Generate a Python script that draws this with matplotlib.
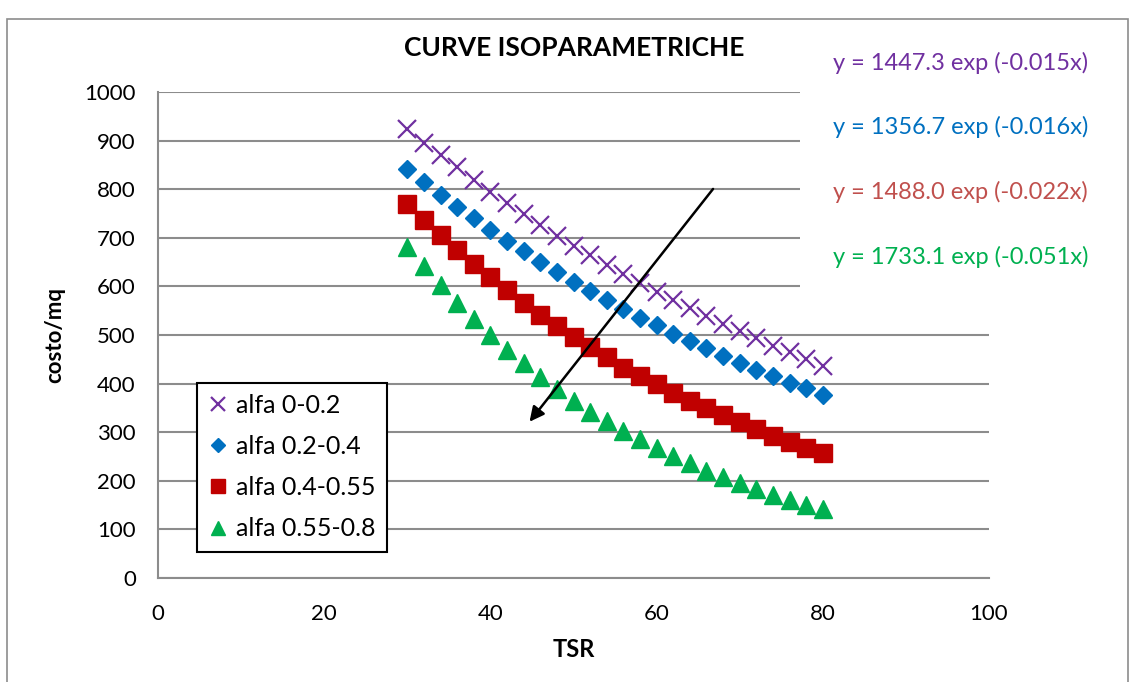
import matplotlib.pyplot as plt
from matplotlib.patches import Rectangle

plt.rcParams['font.family'] = ['Lato', 'DejaVu Sans']

tsr = [30, 32, 34, 36, 38, 40, 42, 44, 46, 48, 50, 52, 54,
       56, 58, 60, 62, 64, 66, 68, 70, 72, 74, 76, 78, 80]

alfa_0_02 = [923, 896, 870, 845, 819, 795, 771, 749, 726, 704, 684, 665, 645,
             626, 608, 589, 572, 555, 539, 523, 508, 493, 478, 464, 450, 436]
alfa_02_04 = [841, 814, 788, 763, 740, 717, 694, 672, 651, 630, 610, 590, 572,
              553, 536, 521, 503, 488, 473, 457, 442, 428, 416, 402, 390, 377]
alfa_04_055 = [769, 737, 706, 675, 646, 619, 593, 566, 541, 518, 496, 475, 454,
               433, 416, 399, 381, 364, 349, 335, 320, 306, 292, 279, 267, 257]
alfa_055_08 = [682, 642, 603, 566, 532, 500, 469, 442, 414, 388, 365, 342, 323,
               303, 285, 267, 251, 236, 221, 208, 195, 183, 171, 160, 150, 143]

labels = ['alfa 0-0.2', 'alfa 0.2-0.4', 'alfa 0.4-0.55', 'alfa 0.55-0.8']
equations = ['y = 1447.3 exp (-0.015x)', 'y = 1356.7 exp (-0.016x)',
             'y = 1488.0 exp (-0.022x)', 'y = 1733.1 exp (-0.051x)']

W, H = 1134, 682
fig = plt.figure(figsize=(W / 100, H / 100), dpi=100)
ax = fig.add_axes([158 / W, 1 - 578 / H, (989 - 158) / W, (578 - 92) / H])

# chart frame (Excel style, partly cropped)
fig.patches.append(Rectangle((7 / W, -0.05), (1128 - 7) / W, 1.05 - 19 / H,
                             transform=fig.transFigure, fill=False,
                             edgecolor='#8c8c8c', lw=1.2))

ax.plot(tsr, alfa_0_02, 'x', color='#7030A0', ms=13, mew=1.6, label=labels[0])
ax.plot(tsr, alfa_02_04, 'D', color='#0070C0', ms=9, label=labels[1])
ax.plot(tsr, alfa_04_055, 's', color='#C00000', ms=13, label=labels[2])
ax.plot(tsr, alfa_055_08, '^', color='#00B050', ms=13, label=labels[3])

ax.set_xlim(0, 100)
ax.set_ylim(0, 1000)
ax.set_xticks(range(0, 101, 20))
ax.set_yticks(range(0, 1001, 100))
ax.grid(axis='y', color='#8c8c8c', lw=1.5)
ax.set_axisbelow(True)
for s in ['top', 'right']:
    ax.spines[s].set_visible(False)
ax.spines['left'].set_color('#8c8c8c')
ax.spines['bottom'].set_color('#8c8c8c')
ax.spines['left'].set_linewidth(1.5)
ax.spines['bottom'].set_linewidth(1.5)
ax.tick_params(axis='both', length=0, labelsize=16)
ax.tick_params(axis='x', pad=19)
ax.tick_params(axis='y', pad=16)

ax.set_xlabel('TSR', fontsize=17, fontweight='bold', labelpad=10)
ax.set_ylabel('costo/mq', fontsize=16, fontweight='bold', labelpad=14)
fig.text(574 / W, 1 - 48 / H, 'CURVE ISOPARAMETRICHE', fontsize=19,
         fontweight='bold', ha='center', va='center')

ax.annotate('', xy=(44.5, 317), xytext=(67, 805),
            arrowprops=dict(arrowstyle='-|>', color='black', lw=1.8,
                            mutation_scale=22))

# white box behind the trendline equations (hides the grid there)
fig.patches.append(Rectangle((800 / W, 1 - 292 / H), 310 / W, 262 / H,
                             transform=fig.transFigure, facecolor='white',
                             edgecolor='none'))
eq_colors = ['#7030A0', '#0070C0', '#C0504D', '#00B050']
eq_y = [63, 127, 192, 257]
for txt, c, yy in zip(equations, eq_colors, eq_y):
    fig.text(833 / W, 1 - yy / H, txt, color=c, fontsize=17, ha='left',
             va='center')

leg = ax.legend(loc='upper left', bbox_to_anchor=(197 / W, 1 - 383 / H),
                bbox_transform=fig.transFigure, fontsize=18, frameon=True,
                fancybox=False, framealpha=1, edgecolor='black',
                markerscale=0.8, handlelength=0.8, handletextpad=0.3,
                labelspacing=0.72, borderpad=0.45, borderaxespad=0)
leg.get_frame().set_linewidth(1.5)

fig.savefig('out.png', dpi=100)
